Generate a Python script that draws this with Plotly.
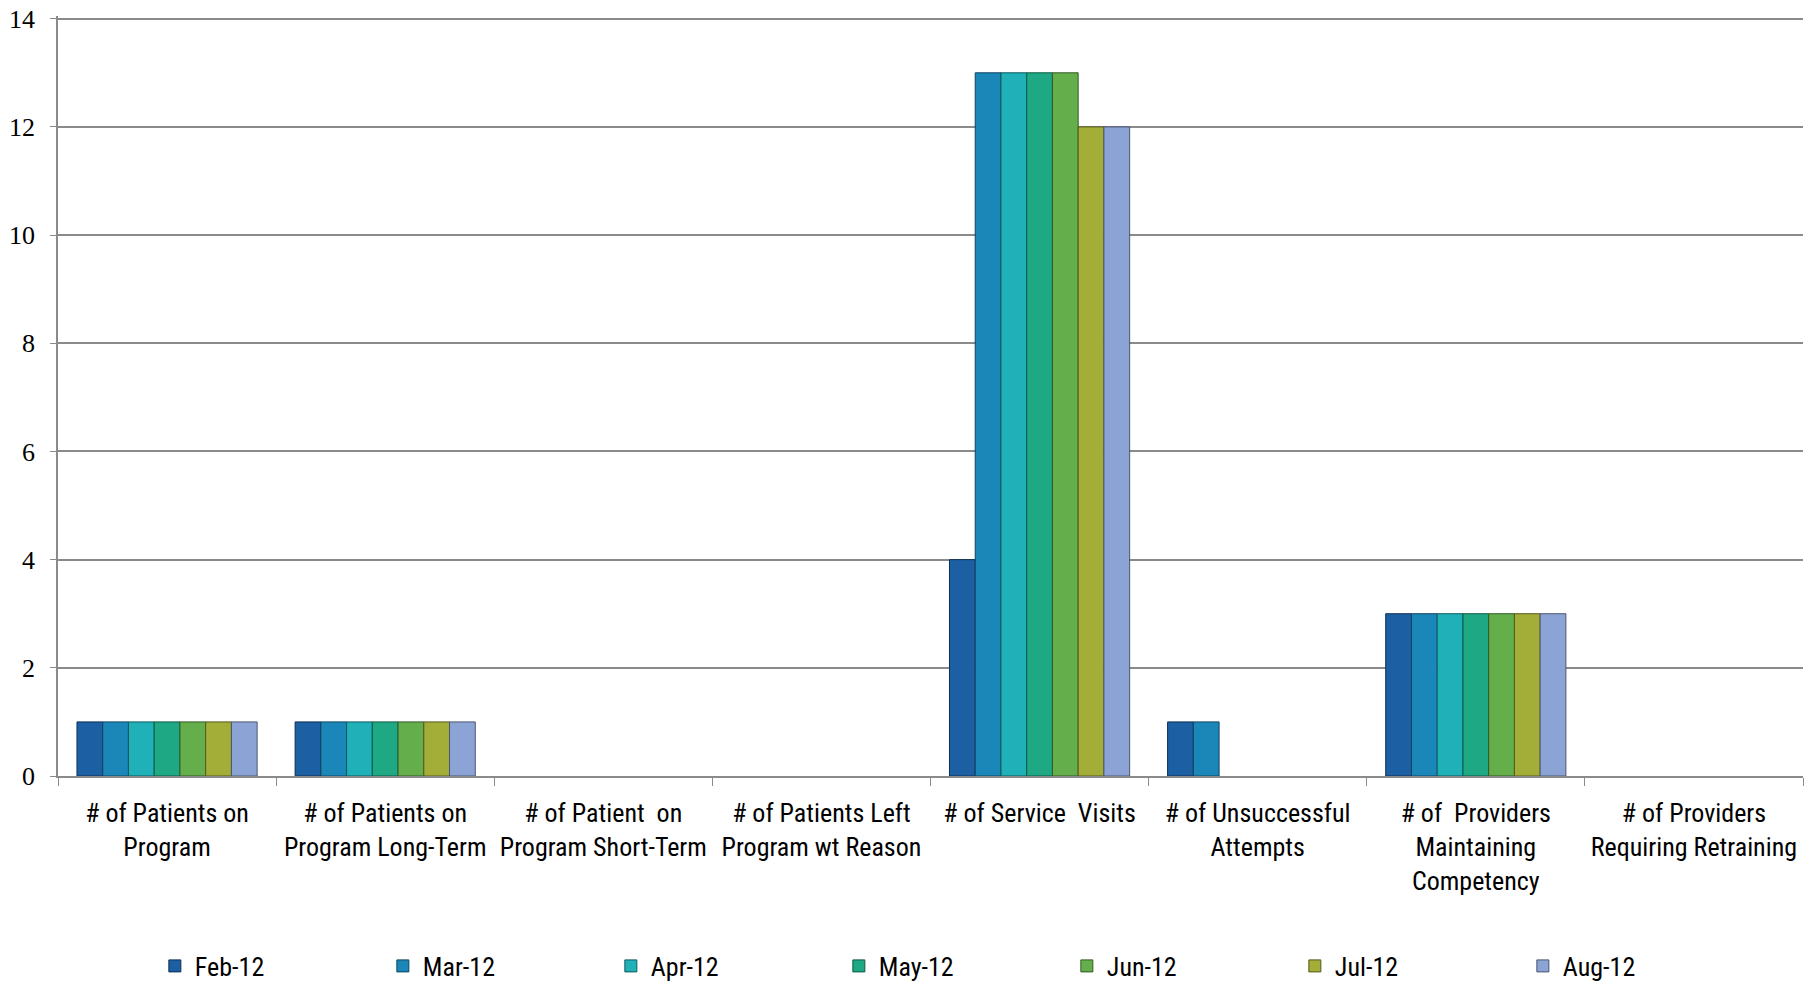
import plotly.graph_objects as go

categories = [
    "# of Patients on<br>Program",
    "# of Patients on<br>Program Long-Term",
    "# of Patient  on<br>Program Short-Term",
    "# of Patients Left<br>Program wt Reason",
    "# of Service  Visits",
    "# of Unsuccessful<br>Attempts",
    "# of  Providers<br>Maintaining<br>Competency",
    "# of Providers<br>Requiring Retraining",
]
months = ["Feb-12", "Mar-12", "Apr-12", "May-12", "Jun-12", "Jul-12", "Aug-12"]
feb12 = [1, 1, 0, 0, 4, 1, 3, 0]
mar12 = [1, 1, 0, 0, 13, 1, 3, 0]
apr12 = [1, 1, 0, 0, 13, 0, 3, 0]
may12 = [1, 1, 0, 0, 13, 0, 3, 0]
jun12 = [1, 1, 0, 0, 13, 0, 3, 0]
jul12 = [1, 1, 0, 0, 12, 0, 3, 0]
aug12 = [1, 1, 0, 0, 12, 0, 3, 0]
series = [feb12, mar12, apr12, may12, jun12, jul12, aug12]
colors = ["#1D5FA3", "#1B87B8", "#1FB0B8", "#1EA884", "#64AE4C", "#A3AE38", "#8CA3D6"]
edges = ["#0E2F55", "#0D4560", "#0E5A5E", "#0D5A44", "#335A26", "#55591C", "#4A5670"]

NARROW = '"Roboto Condensed", "Liberation Sans Narrow", Lato, sans-serif'

fig = go.Figure()
for name, vals, c, e in zip(months, series, colors, edges):
    fig.add_trace(go.Bar(
        x=categories, y=vals, name=name,
        marker=dict(color=c, line=dict(color=e, width=[1 if v else 0 for v in vals])),
    ))

fig.update_layout(
    width=1818, height=986,
    margin=dict(l=58, r=15, t=16, b=210, autoexpand=False),
    plot_bgcolor="white", paper_bgcolor="white",
    barmode="group", bargap=0.174, bargroupgap=0,
    font=dict(family=NARROW, color="black"),
    legend=dict(
        orientation="h", x=0.0555, xanchor="left", y=-0.25, yanchor="middle",
        entrywidth=183, entrywidthmode="pixels",
        font=dict(size=26, family=NARROW, color="black"),
        itemwidth=30,
    ),
    showlegend=True,
)
fig.update_yaxes(
    range=[0, 14.05], tickvals=[0, 2, 4, 6, 8, 10, 12, 14],
    showgrid=True, gridcolor="#8A8A8A", gridwidth=1.5,
    showline=True, linecolor="#8A8A8A", linewidth=1.5,
    ticks="outside", ticklen=6, tickcolor="#8A8A8A",
    tickfont=dict(family='"Liberation Serif", "DejaVu Serif", serif', size=26, color="black"),
    ticklabelstandoff=10, zeroline=False, ticklabeloverflow="allow",
)
fig.update_xaxes(
    showline=True, linecolor="#8A8A8A", linewidth=1.5,
    ticks="outside", ticklen=8, tickcolor="#8A8A8A", tickson="boundaries",
    tickfont=dict(family=NARROW, size=26, color="black"),
    tickangle=0, ticklabelstandoff=13,
)

fig.write_html("out.html")
